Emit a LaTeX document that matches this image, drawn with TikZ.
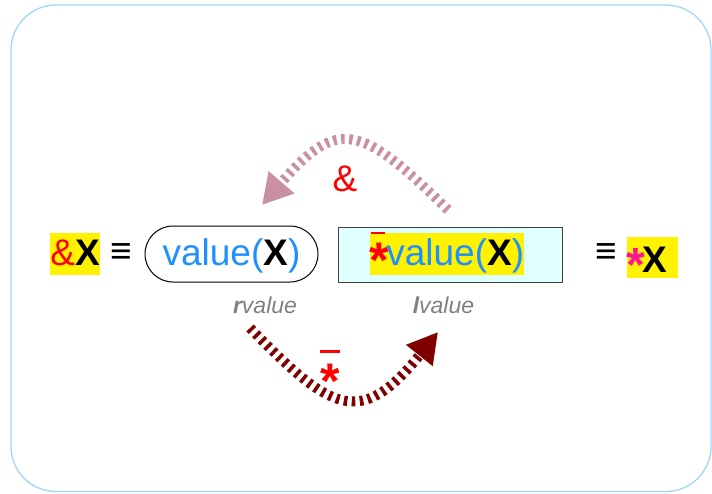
\documentclass[tikz,border=0pt]{standalone}
\usepackage{fontspec}
\setmainfont{Liberation Sans}
\usetikzlibrary{arrows.meta}

\definecolor{framecol}{HTML}{A3D5F5}
\definecolor{valblue}{HTML}{1E90FF}
\definecolor{ampcol}{HTML}{C98FA3}
\definecolor{derefcol}{HTML}{800000}
\definecolor{boxfill}{HTML}{E0FFFF}
\definecolor{boxline}{HTML}{404040}
\definecolor{pinkstar}{HTML}{FF1493}
\definecolor{lblgray}{HTML}{808080}

\newcommand{\bigsize}{\fontsize{37}{40}\selectfont}
\newcommand{\valx}{\textcolor{valblue}{value(}\textbf{X}\textcolor{valblue}{)}}
\newcommand{\barstar}{\textcolor{red}{\fontsize{50}{50}\selectfont\bfseries
   \rlap{\kern1pt\rule[31pt]{14pt}{2.5pt}}\raisebox{-12pt}{*}}\kern-3pt}

\begin{document}
\begin{tikzpicture}[x=1pt,y=-1pt,
   term/.style={font=\bigsize, inner sep=0pt, text height=32pt, text depth=10pt},
   hl/.style={term, fill=yellow},
   lbl/.style={font=\fontsize{23}{26}\selectfont\itshape, text=lblgray, inner sep=0pt},
   refarrow/.style={line width=10pt, dash pattern=on 3.5pt off 4.5pt,
      -{Triangle[length=30pt,width=32pt]}}]

   \useasboundingbox (0,0) rectangle (712,493);
   \draw[framecol, line width=1.3pt, rounded corners=45pt] (11,5) rectangle (711,491.5);

   % left and right terms
   \node[hl, anchor=base] (addrx) at (75,265) {\textcolor{red}{\&}\textbf{X}};
   \node[font=\bigsize\bfseries] (eqleft) at (121,254) {≡};
   \node[term, draw, line width=1pt, rounded corners=28pt, minimum width=173pt,
      minimum height=56pt] (rval) at (231.5,254) {\valx};
   \node[lbl, anchor=base] (rlbl) at (265,313) {\textbf{r}value};

   \node[term, draw=boxline, line width=1pt, fill=boxfill, minimum width=224pt,
      minimum height=55pt] (lbox) at (450,254.5) {};
   \node[hl] (lval) at (447,254) {\barstar\valx};
   \node[lbl, anchor=base] (llbl) at (443.5,313) {\textbf{l}value};

   \node[font=\bigsize\bfseries] (eqright) at (606,254) {≡};
   \node[hl, text height=35pt, text depth=6pt, anchor=base] (derefx) at (652.5,272)
      {\textcolor{pinkstar}{\fontsize{48}{48}\selectfont\bfseries\raisebox{-9pt}{*}}\kern-3pt\textbf{X}\kern11pt};

   % operators on the arcs
   \node[font=\bigsize, text=red] (amplbl) at (345,179) {\&};
   \node[font=\fontsize{50}{50}\selectfont\bfseries, text=red, anchor=base] (starlbl)
      at (330,398) {\rlap{\rule[45pt]{20pt}{3pt}}*};

   \coordinate (ampstart) at (448,210);
   \coordinate (ampend) at (262,205);
   \coordinate (derefstart) at (250,328);
   \coordinate (derefend) at (438,332);

   \draw[refarrow, ampcol] (ampstart) .. controls (360,123) and (337,118) .. (ampend);
   \draw[refarrow, derefcol] (derefstart) .. controls (330,410) and (360,430) .. (derefend);
\end{tikzpicture}
\end{document}
